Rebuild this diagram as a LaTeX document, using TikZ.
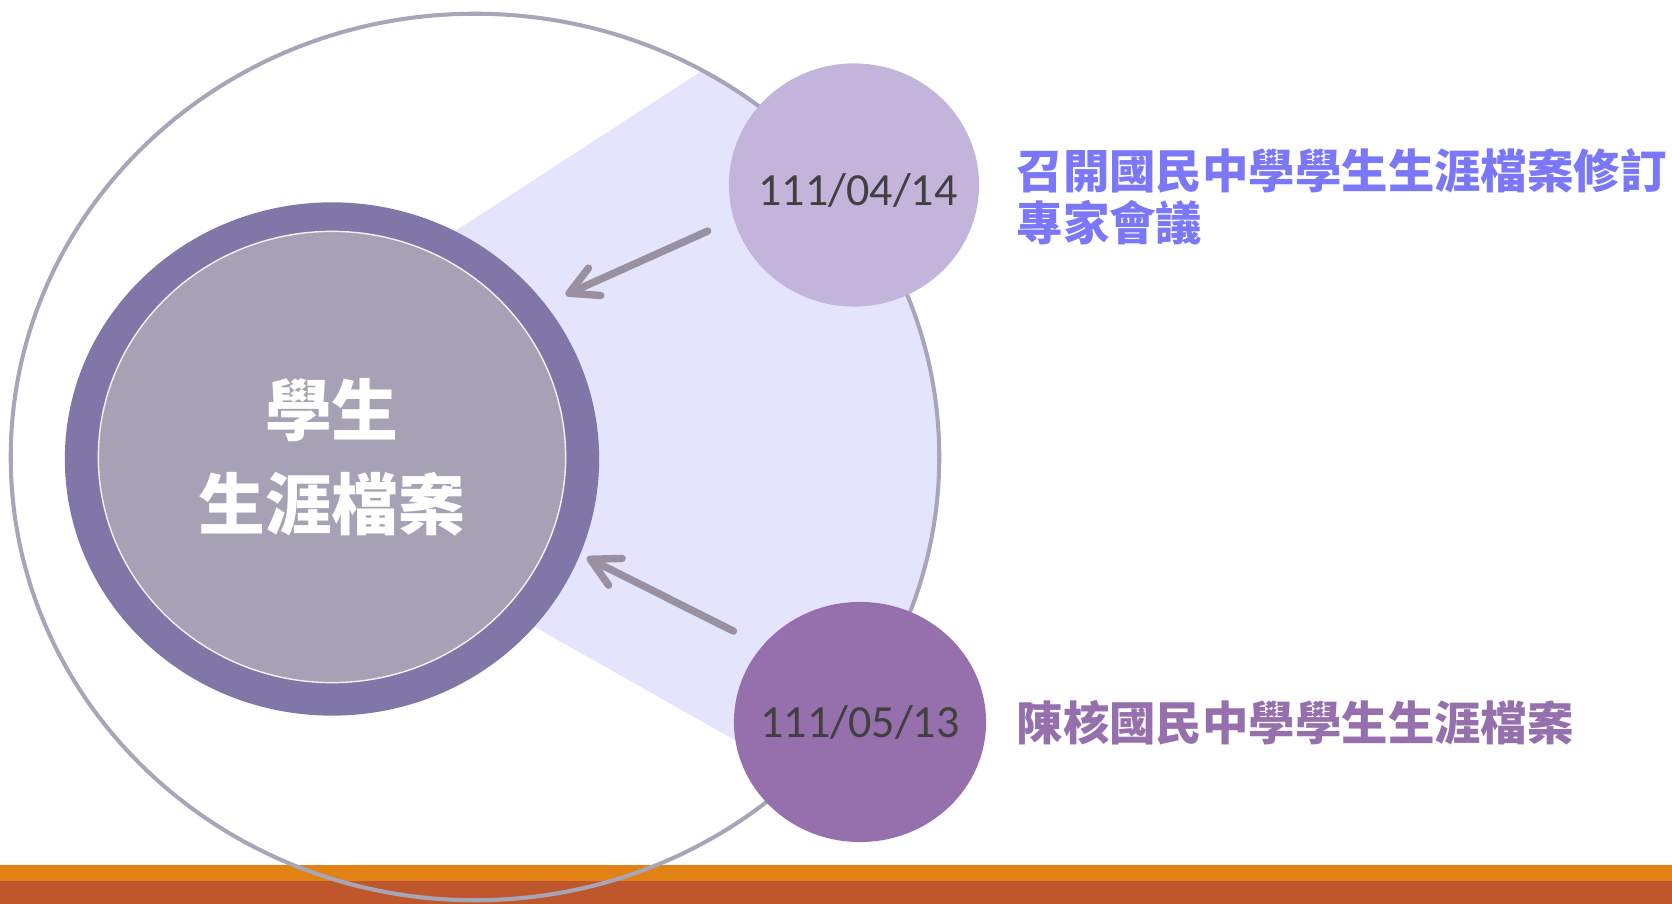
\documentclass[tikz,border=0pt]{standalone}
\usepackage{fontspec}
\setmainfont{Carlito}
\newfontfamily\cjk{Noto Sans CJK TC}
\usetikzlibrary{arrows.meta,shapes.geometric}
\definecolor{barorange}{HTML}{E28214}
\definecolor{barbrown}{HTML}{BE582C}
\definecolor{wedgefill}{HTML}{E4E4FC}
\definecolor{rimgray}{HTML}{A9A5B8}
\definecolor{coreRing}{HTML}{8076A8}
\definecolor{coreFill}{HTML}{A6A1B4}
\definecolor{dateLight}{HTML}{C3B4DC}
\definecolor{dateDark}{HTML}{9670AC}
\definecolor{arrowgray}{HTML}{9990A2}
\definecolor{noteBlue}{HTML}{7A78F8}
\begin{document}
\begin{tikzpicture}[x=0.01cm, y=-0.01cm, line join=round, line cap=round,
	disc/.style={ellipse, inner sep=0pt},
	datetext/.style={text=black!75, font=\fontsize{13.1}{15}\selectfont},
	pointer/.style={draw=arrowgray, line width=2.1pt, -{Straight Barb[length=2.8mm,width=3mm,round]}},
	note/.style={anchor=west, align=left, inner sep=0pt, font=\cjk\bfseries\fontsize{13.2}{14.9}\selectfont}]
	\def\rimx{4.64cm} \def\rimy{4.43cm}
	\useasboundingbox (0,0) rectangle (1672,904);
	%\draw[color=gray!50,dashed] (0,0) grid[step=100] (1672,904);
	\fill[barorange] (0,865) rectangle (1672,881);
	\fill[barbrown] (0,881) rectangle (1672,904);
	\begin{scope}
		\clip (475,457) ellipse [x radius=\rimx, y radius=\rimy];
		\fill[wedgefill] (400,267) -- (800,7) -- (1000,7) -- (1000,890) -- (480,596) -- cycle;
	\end{scope}
	\draw[rimgray, line width=1.15pt] (475,457) ellipse [x radius=\rimx, y radius=\rimy];
	\node[ellipse, fill=coreRing, minimum width=5.34cm, minimum height=5.13cm, inner sep=0pt] (core) at (332,459) {};
	\node[ellipse, fill=coreFill, draw=white!85!coreFill, line width=0.4pt, minimum width=4.67cm, minimum height=4.51cm,
		inner sep=0pt, align=center, text=white, font=\cjk\bfseries\fontsize{19}{26.7}\selectfont] (coreIn) at (332,457) {學生\\生涯檔案};
	\node[disc, fill=dateLight, minimum width=2.50cm, minimum height=2.43cm,
		label={[datetext, xshift=0.04cm, yshift=-0.05cm]center:111/04/14}] (date1) at (854,185) {};
	\node[disc, fill=dateDark, minimum width=2.52cm, minimum height=2.40cm,
		label={[datetext]center:111/05/13}] (date2) at (860,722) {};
	\draw[pointer, shorten <=0.28cm, shorten >=0.22cm] (date1.196) -- (core.36);
	\draw[pointer, shorten <=0.32cm, shorten >=0.07cm] (date2.142) -- (core.339);
	\node[note, text=noteBlue] (note1) at (1016,197) {召開國民中學學生生涯檔案修訂\\專家會議};
	\node[note, text=dateDark] (note2) at (1016,723) {陳核國民中學學生生涯檔案};
\end{tikzpicture}
\end{document}
